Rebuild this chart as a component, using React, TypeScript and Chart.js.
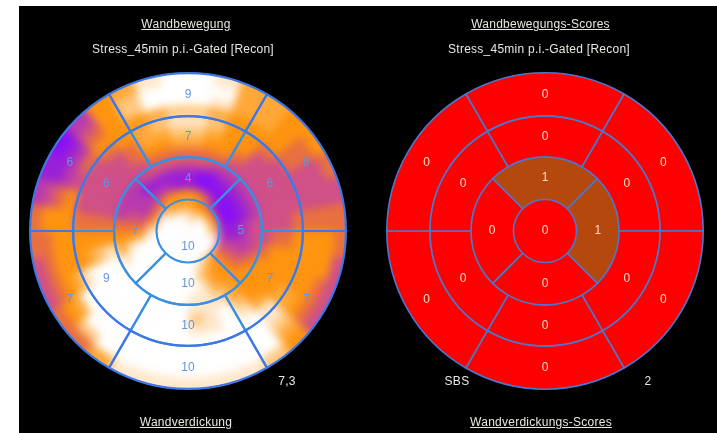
import React, { useEffect, useRef } from "react";
import { Chart, registerables } from "chart.js";

Chart.register(...registerables);

const outerRingScoresLeft = [9, 8, 7, 10, 7, 6];
const middleRingScoresLeft = [7, 6, 7, 10, 9, 6];
const innerRingScoresLeft = [4, 5, 10, 7];
const centerScoreLeft = [10];

const outerRingScoresRight = [0, 0, 0, 0, 0, 0];
const middleRingScoresRight = [0, 0, 0, 0, 0, 0];
const innerRingScoresRight = [1, 1, 0, 0];
const centerScoreRight = [0];

const heatPalette = ["#8a10f5", "#9a20d8", "#b83ab0", "#d05088", "#e87040", "#ff9410", "#ffa838", "#ffc880", "#ffe8cc", "#ffffff"];
const scorePalette = ["#ff0000", "#b5480c"];

// Wall-motion intensity: outermost ring first, 10-degree sectors clockwise from the top.
const heatRows = [
  "986655434433357888888644334421025689",
  "996654334554469999999975444531135799",
  "986654334555579999999996555542245799",
  "765554334555689999999999655553455567",
  "875543334555689999999999855433345678",
  "765533333455568988999999965433334667",
  "655433333455557987999999975433334556",
  "444333333345556888999999985433333444",
  "332222223334556788999999865422223333",
  "100111112223455689999999985432211111",
  "100000001123455679999999996432222211",
  "554310001123456789999999999754445555",
  "655555566789999999999999999999876666",
  "877889999999999999999999999999999988",
  "999999999999999999999999999999999999",
];

const ringRotations = [-30, -30, -45, 0];
const ringWeights = [43, 41, 42.5, 31.5];

type Rings = number[][];

function makeRings(rings: Rings, fill: (v: number) => string, lineColors: string[], lineWidth: number) {
  return rings.map((ring, i) => ({
    data: ring.map(() => 1),
    rotation: ringRotations[i],
    scores: ring,
    backgroundColor: ring.map(fill),
    borderColor: lineColors[i],
    // the centre disc is outlined by the inner edge of the ring around it
    borderWidth: ring.length === 1 ? 0 : lineWidth,
    weight: ringWeights[i],
  }));
}

const scoreLabels = (color: string) => ({
  id: "scoreLabels",
  afterDatasetsDraw(chart: any) {
    const ctx = chart.ctx;
    ctx.save();
    ctx.fillStyle = color;
    ctx.font = '12px "Liberation Sans"';
    ctx.textAlign = "center";
    ctx.textBaseline = "middle";
    chart.data.datasets.forEach((ds: any, i: number) => {
      chart.getDatasetMeta(i).data.forEach((arc: any, j: number) => {
        const p = arc.innerRadius === 0 ? { x: arc.x, y: arc.y } : arc.getCenterPoint();
        ctx.fillText(String(ds.scores[j]), p.x, p.y);
      });
    });
    ctx.restore();
  },
});

function Doughnut({ config, size, style }: { config: () => any; size: number; style: React.CSSProperties }) {
  const ref = useRef<HTMLCanvasElement>(null);
  useEffect(() => {
    const chart = new Chart(ref.current as HTMLCanvasElement, config());
    return () => chart.destroy();
  }, []);
  return <canvas ref={ref} width={size} height={size} style={{ position: "absolute", width: size, height: size, ...style }} />;
}

const baseOptions = {
  responsive: false,
  animation: false as const,
  cutout: 0,
  layout: { padding: 0 },
  plugins: { legend: { display: false }, tooltip: { enabled: false } },
};

const heatConfig = () => ({
  type: "doughnut",
  data: {
    datasets: heatRows.map((row, i) => {
      const colors = row.split("").map((c) => heatPalette[Number(c)]);
      // the outermost ring runs past the clip circle, so the blur does not darken the rim
      return { data: colors.map(() => 1), backgroundColor: colors, borderColor: colors, borderWidth: 1, weight: i === 0 ? 2 : 1 };
    }),
  },
  options: baseOptions,
});

const leftLinesConfig = () => ({
  type: "doughnut",
  data: {
    datasets: makeRings(
      [outerRingScoresLeft, middleRingScoresLeft, innerRingScoresLeft, centerScoreLeft],
      () => "rgba(0,0,0,0)",
      ["#3f78e6", "#3a90e0", "#3a90e0", "#3a90e0"],
      2.2
    ),
  },
  options: baseOptions,
  plugins: [scoreLabels("#5f96e0")],
});

const rightConfig = () => ({
  type: "doughnut",
  data: {
    datasets: makeRings(
      [outerRingScoresRight, middleRingScoresRight, innerRingScoresRight, centerScoreRight],
      (v) => scorePalette[v],
      ["#4a78d0", "#4a78d0", "#4a78d0", "#4a78d0"],
      1.6
    ),
  },
  options: baseOptions,
  plugins: [scoreLabels("#ffdcc8")],
});

const texts: { t: string; x: number; y: number; u?: boolean }[] = [
  { t: "Wandbewegung", x: 186, y: 24, u: true },
  { t: "Stress_45min p.i.-Gated [Recon]", x: 183, y: 49 },
  { t: "Wandverdickung", x: 186, y: 422, u: true },
  { t: "7,3", x: 287, y: 381 },
  { t: "Wandbewegungs-Scores", x: 540.5, y: 24, u: true },
  { t: "Stress_45min p.i.-Gated [Recon]", x: 539, y: 49 },
  { t: "Wandverdickungs-Scores", x: 541, y: 422, u: true },
  { t: "SBS", x: 457, y: 381 },
  { t: "2", x: 648, y: 381 },
];

const cxL = 188;
const cyL = 230.5;
const cxR = 545;
const cyR = 231;
const heatSize = 338;

export default function App() {
  return (
    <div style={{ position: "fixed", left: 0, top: 0, width: 717, height: 433, background: "#fff", overflow: "hidden" }}>
      <div style={{ position: "absolute", left: 19, top: 6, width: 698, height: 427, background: "#000" }} />
      <div
        style={{
          position: "absolute",
          left: cxL - heatSize / 2,
          top: cyL - heatSize / 2,
          width: heatSize,
          height: heatSize,
          clipPath: `circle(158px at ${heatSize / 2}px ${heatSize / 2}px)`,
        }}
      >
        <Doughnut config={heatConfig} size={heatSize} style={{ left: 0, top: 0, filter: "blur(4px)" }} />
      </div>
      <Doughnut config={leftLinesConfig} size={318} style={{ left: cxL - 159, top: cyL - 159, filter: "blur(0.5px)" }} />
      <Doughnut config={rightConfig} size={318} style={{ left: cxR - 159, top: cyR - 159, filter: "blur(0.6px)" }} />
      {texts.map((d, i) => (
        <div
          key={i}
          style={{
            position: "absolute",
            left: d.x,
            top: d.y,
            transform: "translate(-50%,-50%)",
            whiteSpace: "nowrap",
            color: "#e8e8e0",
            font: '12px "Liberation Sans"',
            letterSpacing: 0.25,
            textDecoration: d.u ? "underline" : "none",
            filter: "blur(0.6px)",
          }}
        >
          {d.t}
        </div>
      ))}
    </div>
  );
}
